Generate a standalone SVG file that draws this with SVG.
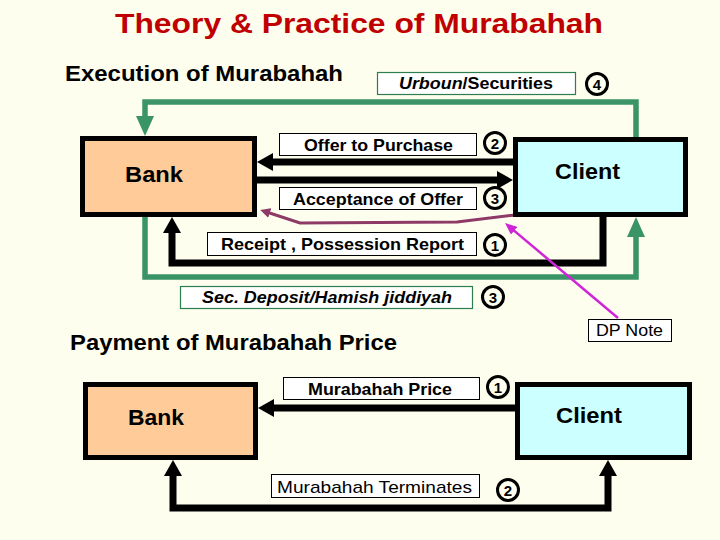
<svg xmlns="http://www.w3.org/2000/svg" width="720" height="540" viewBox="0 0 720 540">
<style>
text{font-family:"Liberation Sans",Arial,sans-serif;fill:#000}
.title{font-size:27px;font-weight:bold;fill:#C00000}
.head{font-size:22px;font-weight:bold}
.node{font-size:22px;font-weight:bold}
.lbl{font-size:16.5px;font-weight:bold}
.num{font-size:15px;font-weight:bold;text-anchor:middle}
.bank{fill:#FFCC99;stroke:#000;stroke-width:5}
.client{fill:#CCFFFF;stroke:#000;stroke-width:5}
.box{fill:#fff;stroke:#000;stroke-width:1}
.gbox{fill:#fff;stroke:#2E7D4F;stroke-width:1.2}
.circ{fill:#FFFFF0;stroke:#000;stroke-width:3}
.blk{fill:none;stroke:#000;stroke-width:7}
.grn{fill:none;stroke:#3A9467;stroke-width:5.5}
</style>
<defs>
<marker id="ab" markerUnits="userSpaceOnUse" viewBox="0 0 16 18" markerWidth="16" markerHeight="18" refX="8" refY="9" orient="auto-start-reverse"><path d="M0,0 L16,9 L0,18 z" fill="#000"/></marker>
<marker id="ag" markerUnits="userSpaceOnUse" viewBox="0 0 20 18" markerWidth="20" markerHeight="18" refX="10" refY="9" orient="auto"><path d="M0,0 L20,9 L0,18 z" fill="#3A9467"/></marker>
<marker id="ap" markerUnits="userSpaceOnUse" viewBox="0 0 10 10" markerWidth="10" markerHeight="10" refX="5" refY="5" orient="auto"><path d="M0,0 L10,5 L0,10 z" fill="#8E3A66"/></marker>
<marker id="am" markerUnits="userSpaceOnUse" viewBox="0 0 12 10" markerWidth="12" markerHeight="10" refX="6" refY="5" orient="auto"><path d="M0,0 L12,5 L0,10 z" fill="#D024D8"/></marker>
</defs>
<rect width="720" height="540" fill="#FEFEEE"/>
<text class="title" x="115" y="33" textLength="488" lengthAdjust="spacingAndGlyphs">Theory &amp; Practice of Murabahah</text>
<text class="head" x="65" y="81" textLength="278" lengthAdjust="spacingAndGlyphs">Execution of Murabahah</text>
<text class="head" x="70" y="350" textLength="327" lengthAdjust="spacingAndGlyphs">Payment of Murabahah Price</text>

<g id="connectors">
<path class="blk" d="M513,162 H265" marker-end="url(#ab)"/>
<path class="blk" d="M257,180 H505" marker-end="url(#ab)"/>
<path class="blk" d="M603,217 V263 H172 V225" marker-end="url(#ab)"/>
<path class="grn" d="M636,137 V102 H145 V126" marker-end="url(#ag)"/>
<path class="grn" d="M145,217 V277 H636 V227" marker-end="url(#ag)"/>
<path d="M515,215 L457,222 L300,223 L265,211.5" fill="none" stroke="#8E3A66" stroke-width="3" marker-end="url(#ap)"/>
<path d="M618,318 L509.6,226.9" fill="none" stroke="#D024D8" stroke-width="2.5" marker-end="url(#am)"/>
<path class="blk" d="M515,408 H266" marker-end="url(#ab)"/>
<path class="blk" d="M173,468 V508 H608 V468" marker-start="url(#ab)" marker-end="url(#ab)"/>
</g>

<g id="bank1"><rect class="bank" x="82.5" y="138.5" width="172" height="76"/><text class="node" x="125" y="182" textLength="58" lengthAdjust="spacingAndGlyphs">Bank</text></g>
<g id="client1"><rect class="client" x="515.5" y="139.5" width="170" height="75"/><text class="node" x="555" y="179" textLength="65" lengthAdjust="spacingAndGlyphs">Client</text></g>
<g id="bank2"><rect class="bank" x="85.5" y="384.5" width="170" height="73"/><text class="node" x="128" y="425" textLength="56" lengthAdjust="spacingAndGlyphs">Bank</text></g>
<g id="client2"><rect class="client" x="517.5" y="384.5" width="172" height="73"/><text class="node" x="556" y="423" textLength="66" lengthAdjust="spacingAndGlyphs">Client</text></g>

<g id="lbl-urboun"><rect class="gbox" x="377.5" y="72.5" width="198" height="22"/><text class="lbl" x="399" y="89" textLength="154" lengthAdjust="spacingAndGlyphs"><tspan font-style="italic">Urboun</tspan>/Securities</text></g>
<g id="n4"><circle class="circ" cx="597" cy="84" r="10.5"/><text class="num" x="597" y="89.5">4</text></g>

<g id="lbl-offer"><rect class="box" x="279.5" y="133.5" width="197" height="22"/><text class="lbl" x="304" y="151" textLength="149" lengthAdjust="spacingAndGlyphs">Offer to Purchase</text></g>
<g id="n2a"><circle class="circ" cx="495" cy="143" r="10.5"/><text class="num" x="495" y="148.5">2</text></g>

<g id="lbl-accept"><rect class="box" x="279.5" y="187.5" width="197" height="22"/><text class="lbl" x="293" y="205" textLength="170" lengthAdjust="spacingAndGlyphs">Acceptance of Offer</text></g>
<g id="n3a"><circle class="circ" cx="495" cy="198" r="10.5"/><text class="num" x="495" y="203.5">3</text></g>

<g id="lbl-receipt"><rect class="box" x="207.5" y="232.5" width="269" height="23"/><text class="lbl" x="221" y="250" textLength="243" lengthAdjust="spacingAndGlyphs">Receipt , Possession Report</text></g>
<g id="n1a"><circle class="circ" cx="495" cy="245" r="10.5"/><text class="num" x="495" y="250.5">1</text></g>

<g id="lbl-deposit"><rect class="gbox" x="180.5" y="286.5" width="292" height="22"/><text class="lbl" x="202" y="303" font-style="italic" textLength="250" lengthAdjust="spacingAndGlyphs">Sec. Deposit/Hamish jiddiyah</text></g>
<g id="n3b"><circle class="circ" cx="493" cy="297" r="10.5"/><text class="num" x="493" y="302.5">3</text></g>

<g id="dpnote"><rect class="box" x="588.5" y="319.5" width="83" height="22"/><text x="596" y="336" font-size="17" textLength="67" lengthAdjust="spacingAndGlyphs">DP Note</text></g>

<g id="lbl-price"><rect class="box" x="283.5" y="377.5" width="196" height="22"/><text class="lbl" x="308" y="395" textLength="144" lengthAdjust="spacingAndGlyphs">Murabahah Price</text></g>
<g id="n1b"><circle class="circ" cx="498" cy="387" r="10.5"/><text class="num" x="498" y="392.5">1</text></g>

<g id="lbl-term"><rect class="box" x="271.5" y="474.5" width="208" height="23"/><text x="277" y="493" font-size="17" textLength="195" lengthAdjust="spacingAndGlyphs">Murabahah Terminates</text></g>
<g id="n2b"><circle class="circ" cx="508" cy="490" r="10.5"/><text class="num" x="508" y="495.5">2</text></g>
</svg>
